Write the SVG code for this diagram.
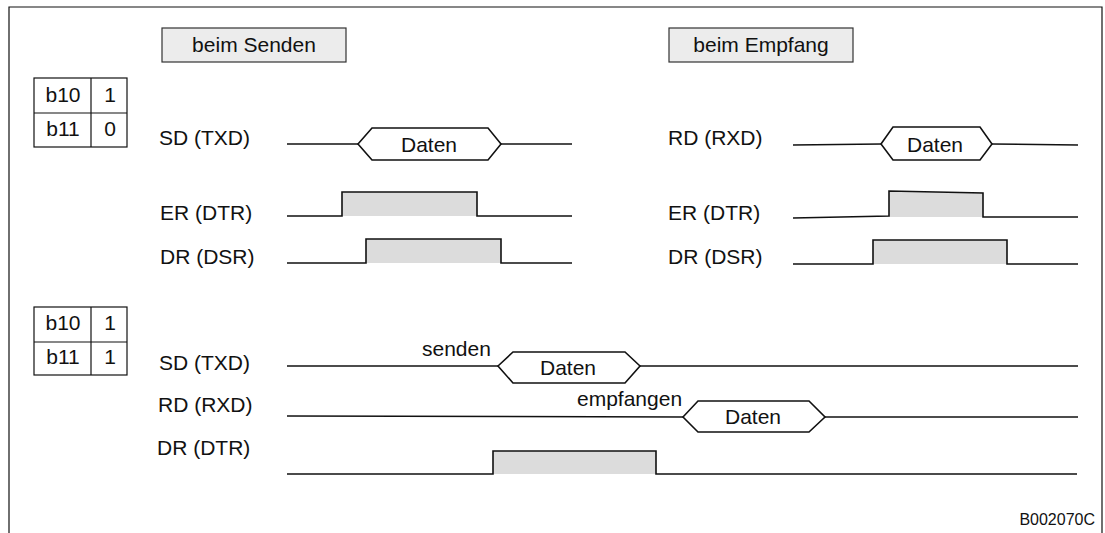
<svg xmlns="http://www.w3.org/2000/svg" width="1105" height="533" viewBox="0 0 1105 533">
  <style>
    text { font-family: "Liberation Sans", Arial, sans-serif; font-size: 21px; fill: #111; }
    .mid { text-anchor: middle; }
    .frame { fill: none; stroke: #111; stroke-width: 1.2; }
    .hdr { fill: #ececec; stroke: #333; stroke-width: 1.2; }
    .cell { fill: #fff; stroke: #111; stroke-width: 1.2; }
    .sig { fill: none; stroke: #111; stroke-width: 1.6; stroke-linejoin: miter; }
    .hex { fill: #fff; stroke: #111; stroke-width: 1.6; }
    .pulse { fill: #dcdcdc; stroke: none; }
    .code { font-size: 16px; }
  </style>
  <rect width="1105" height="533" fill="#fff"/>
  <path class="frame" d="M9,533 V7 H1102 V533"/>

  <g id="hdr-senden">
    <rect class="hdr" x="162" y="28" width="184" height="34"/>
    <text class="mid" x="254" y="52">beim Senden</text>
  </g>
  <g id="hdr-empfang">
    <rect class="hdr" x="669" y="28" width="184" height="34"/>
    <text class="mid" x="761" y="52">beim Empfang</text>
  </g>

  <g id="table1">
    <rect class="cell" x="34" y="78" width="93" height="69"/>
    <line class="cell" x1="34" y1="113" x2="127" y2="113"/>
    <line class="cell" x1="91" y1="78" x2="91" y2="147"/>
    <text class="mid" x="63" y="102">b10</text>
    <text class="mid" x="110" y="102">1</text>
    <text class="mid" x="63" y="136">b11</text>
    <text class="mid" x="110" y="136">0</text>
  </g>
  <g id="table2">
    <rect class="cell" x="34" y="307" width="93" height="68"/>
    <line class="cell" x1="34" y1="342" x2="127" y2="342"/>
    <line class="cell" x1="91" y1="307" x2="91" y2="375"/>
    <text class="mid" x="63" y="330">b10</text>
    <text class="mid" x="110" y="330">1</text>
    <text class="mid" x="63" y="364">b11</text>
    <text class="mid" x="110" y="364">1</text>
  </g>

  <g id="labels">
    <text x="159" y="145">SD (TXD)</text>
    <text x="160" y="220">ER (DTR)</text>
    <text x="160" y="264">DR (DSR)</text>
    <text x="668" y="145">RD (RXD)</text>
    <text x="668" y="220">ER (DTR)</text>
    <text x="668" y="264">DR (DSR)</text>
    <text x="159" y="370">SD (TXD)</text>
    <text x="158" y="412">RD (RXD)</text>
    <text x="157" y="455">DR (DTR)</text>
  </g>

  <g id="connectors">
    <!-- Senden: SD -->
    <line class="sig" x1="287" y1="144" x2="358" y2="144"/>
    <line class="sig" x1="501" y1="144" x2="572" y2="144"/>
    <!-- Senden: ER pulse -->
    <rect class="pulse" x="342" y="192" width="135" height="24"/>
    <path class="sig" d="M287,216 H342 V192 H477 V216 H572"/>
    <!-- Senden: DR pulse -->
    <rect class="pulse" x="366" y="239" width="135" height="24"/>
    <path class="sig" d="M287,263 H366 V239 H501 V263 H572"/>

    <!-- Empfang: RD -->
    <line class="sig" x1="793" y1="145" x2="881" y2="144"/>
    <line class="sig" x1="992" y1="144" x2="1078" y2="145"/>
    <!-- Empfang: ER pulse -->
    <path class="pulse" d="M889,191 L983,193 V217 H889 Z"/>
    <path class="sig" d="M793,218 L889,216 V191 L983,193 V217 H1078"/>
    <!-- Empfang: DR pulse -->
    <rect class="pulse" x="873" y="240" width="134" height="24"/>
    <path class="sig" d="M793,264 H873 V240 H1007 V264 H1078"/>

    <!-- Section 2: SD -->
    <line class="sig" x1="287" y1="366" x2="498" y2="366"/>
    <line class="sig" x1="640" y1="366" x2="1078" y2="366"/>
    <!-- Section 2: RD -->
    <line class="sig" x1="287" y1="416" x2="683" y2="417"/>
    <line class="sig" x1="825" y1="417" x2="1078" y2="417"/>
    <!-- Section 2: DR pulse -->
    <rect class="pulse" x="493" y="451" width="163" height="23"/>
    <path class="sig" d="M287,474 H493 V451 H656 V474 H1077"/>
  </g>

  <g id="data-send">
    <polygon class="hex" points="358,144 372,128 488,128 501,144 488,160 372,160"/>
    <text class="mid" x="429" y="152">Daten</text>
  </g>
  <g id="data-recv">
    <polygon class="hex" points="881,144 893,127 980,127 992,144 980,160 893,160"/>
    <text class="mid" x="935" y="152">Daten</text>
  </g>
  <g id="data-send2">
    <polygon class="hex" points="498,366 513,352 625,352 640,366 625,383 513,383"/>
    <text class="mid" x="568" y="375">Daten</text>
    <text x="422" y="356">senden</text>
  </g>
  <g id="data-recv2">
    <polygon class="hex" points="683,417 698,401 809,401 825,417 809,432 698,432"/>
    <text class="mid" x="753" y="424">Daten</text>
    <text x="577" y="406">empfangen</text>
  </g>

  <text class="code" x="1095" y="525" text-anchor="end">B002070C</text>
</svg>
